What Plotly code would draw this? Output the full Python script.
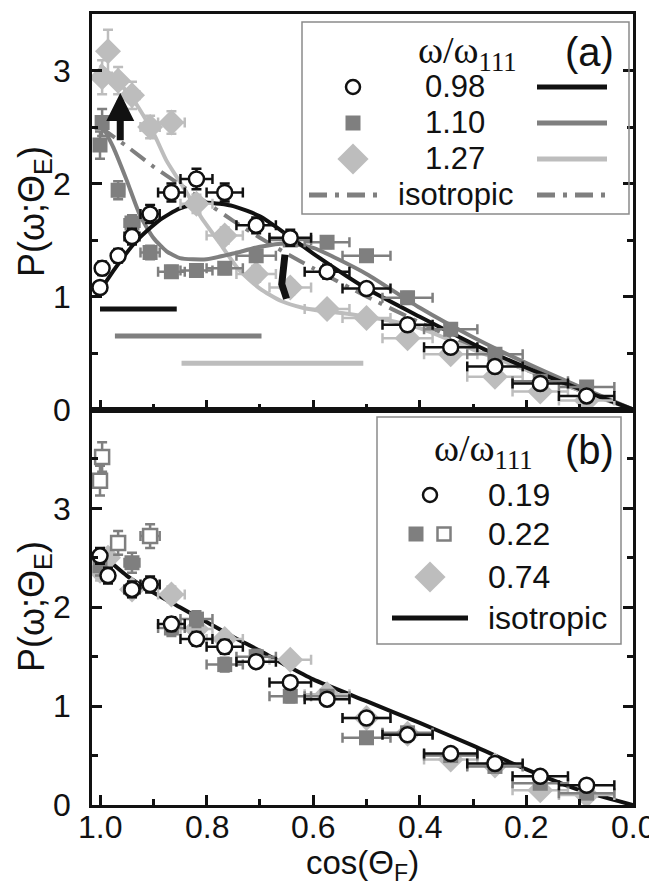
import plotly.graph_objects as go

FONT = "Liberation Sans, Arial, sans-serif"
SERIF = "Liberation Serif, Times New Roman, serif"
BLACK = "#111111"
MID = "#7f7f7f"
LIGHT = "#bdbdbd"

# ---------------- data ----------------
BIN_X = [1.000, 0.996, 0.985, 0.966, 0.940, 0.906, 0.866, 0.819, 0.766, 0.707,
         0.643, 0.574, 0.500, 0.423, 0.342, 0.259, 0.174, 0.087]
BIN_XERR = [0.003, 0.006, 0.008, 0.011, 0.014, 0.018, 0.025, 0.030, 0.034, 0.037,
            0.039, 0.042, 0.045, 0.047, 0.050, 0.052, 0.052, 0.052]

# panel (a)
A098_X = [1.000, 0.996, 0.966, 0.940, 0.906, 0.866, 0.819, 0.766, 0.707, 0.643, 0.574, 0.500, 0.423, 0.342, 0.259, 0.174, 0.087]
A098_Y = [1.08, 1.25, 1.36, 1.53, 1.73, 1.92, 2.04, 1.92, 1.63, 1.52, 1.22, 1.07, 0.75, 0.55, 0.38, 0.23, 0.12]
A098_YERR = [0.05, 0.06, 0.06, 0.07, 0.08, 0.08, 0.09, 0.08, 0.07, 0.07, 0.06, 0.05, 0.05, 0.04, 0.04, 0.03, 0.03]

A110_X = [1.000, 0.996, 0.966, 0.940, 0.906, 0.866, 0.819, 0.766, 0.707, 0.643, 0.574, 0.500, 0.423, 0.342, 0.259, 0.174, 0.087]
A110_Y = [2.34, 2.54, 1.94, 1.65, 1.39, 1.22, 1.23, 1.25, 1.36, 1.50, 1.48, 1.36, 0.99, 0.71, 0.49, 0.25, 0.20]
A110_YERR = [0.12, 0.12, 0.08, 0.07, 0.06, 0.05, 0.05, 0.05, 0.05, 0.05, 0.05, 0.05, 0.05, 0.04, 0.04, 0.03, 0.03]

A127_X = [0.996, 0.985, 0.966, 0.940, 0.906, 0.866, 0.819, 0.766, 0.707, 0.643, 0.574, 0.500, 0.423, 0.342, 0.259, 0.174, 0.087]
A127_Y = [2.94, 3.17, 2.91, 2.78, 2.50, 2.54, 1.82, 1.54, 1.20, 1.08, 0.89, 0.81, 0.63, 0.49, 0.29, 0.16, 0.08]
A127_YERR = [0.15, 0.19, 0.12, 0.12, 0.10, 0.10, 0.08, 0.07, 0.07, 0.06, 0.05, 0.05, 0.05, 0.04, 0.04, 0.03, 0.03]

CURVE098_X = [1.0, 0.97, 0.93, 0.89, 0.85, 0.80, 0.75, 0.70, 0.65, 0.60, 0.50, 0.40, 0.30, 0.20, 0.10, 0.0]
CURVE098_Y = [1.05, 1.26, 1.50, 1.67, 1.78, 1.83, 1.80, 1.71, 1.55, 1.38, 1.07, 0.82, 0.58, 0.37, 0.18, 0.0]

CURVE110_X = [1.0, 0.975, 0.95, 0.925, 0.9, 0.875, 0.85, 0.8, 0.75, 0.7, 0.65, 0.6, 0.5, 0.4, 0.3, 0.2, 0.1, 0.0]
CURVE110_Y = [2.55, 2.32, 2.03, 1.72, 1.52, 1.40, 1.34, 1.33, 1.38, 1.44, 1.47, 1.43, 1.20, 0.90, 0.64, 0.41, 0.20, 0.0]

CURVE127_X = [1.0, 0.975, 0.94, 0.9, 0.875, 0.84, 0.81, 0.775, 0.74, 0.7, 0.66, 0.62, 0.58, 0.54, 0.5, 0.46, 0.4, 0.3, 0.2, 0.1, 0.0]
CURVE127_Y = [3.05, 2.94, 2.76, 2.45, 2.20, 1.94, 1.70, 1.47, 1.24, 1.07, 0.96, 0.90, 0.87, 0.85, 0.82, 0.79, 0.72, 0.53, 0.35, 0.17, 0.0]

ISO_A_X = [1.0, 0.95, 0.9, 0.85, 0.8, 0.75, 0.7, 0.65, 0.6, 0.5, 0.4, 0.3, 0.2, 0.1, 0.0]
ISO_A_Y = [2.50, 2.33, 2.15, 1.99, 1.83, 1.67, 1.52, 1.38, 1.25, 1.00, 0.77, 0.55, 0.35, 0.17, 0.0]

# range bars in panel (a)
BAR_X0 = [1.000, 0.972, 0.847]
BAR_X1 = [0.856, 0.697, 0.506]
BAR_Y = [0.89, 0.65, 0.41]
BAR_COLORS = [BLACK, MID, LIGHT]

# arrow (tail, head) and hook mark in panel (a)
ARROW_X = [0.962, 0.962]
ARROW_Y = [2.37, 2.80]
HOOK_X = [0.653, 0.659, 0.650]
HOOK_Y = [1.37, 1.11, 0.98]

# panel (b)
B019_X = [1.000, 0.985, 0.940, 0.906, 0.866, 0.819, 0.766, 0.707, 0.643, 0.574, 0.500, 0.423, 0.342, 0.259, 0.174, 0.087]
B019_Y = [2.52, 2.32, 2.18, 2.23, 1.83, 1.68, 1.60, 1.45, 1.24, 1.07, 0.88, 0.71, 0.52, 0.42, 0.29, 0.20]
B019_YERR = [0.08, 0.08, 0.08, 0.08, 0.07, 0.07, 0.07, 0.06, 0.06, 0.05, 0.05, 0.05, 0.04, 0.04, 0.04, 0.04]

B022_X = [1.000, 0.940, 0.866, 0.819, 0.766, 0.707, 0.643, 0.574, 0.500, 0.423, 0.342, 0.259, 0.174, 0.087]
B022_Y = [2.42, 2.45, 1.79, 1.88, 1.42, 1.50, 1.10, 1.10, 0.68, 0.73, 0.50, 0.39, 0.22, 0.12]
B022_YERR = [0.10, 0.10, 0.08, 0.08, 0.07, 0.07, 0.06, 0.06, 0.05, 0.05, 0.04, 0.04, 0.04, 0.04]

B022_OPEN_X = [0.996, 1.000, 0.966, 0.906]
B022_OPEN_Y = [3.52, 3.28, 2.65, 2.72]
B022_OPEN_YERR = [0.15, 0.15, 0.12, 0.12]

B074_X = [1.000, 0.985, 0.940, 0.866, 0.819, 0.766, 0.643, 0.574, 0.500, 0.423, 0.342, 0.259, 0.174, 0.087]
B074_Y = [2.37, 2.50, 2.18, 2.13, 1.78, 1.68, 1.47, 1.12, 0.88, 0.72, 0.46, 0.40, 0.15, 0.10]
B074_YERR = [0.10, 0.10, 0.08, 0.08, 0.07, 0.07, 0.06, 0.06, 0.05, 0.05, 0.04, 0.04, 0.04, 0.04]

ISO_B_X = [1.0, 0.95, 0.9, 0.85, 0.8, 0.75, 0.7, 0.65, 0.6, 0.5, 0.4, 0.3, 0.2, 0.1, 0.0]
ISO_B_Y = [2.55, 2.32, 2.15, 2.00, 1.85, 1.70, 1.56, 1.41, 1.27, 1.05, 0.83, 0.60, 0.36, 0.15, 0.0]

X_TICK_VALS = [1.0, 0.8, 0.6, 0.4, 0.2, 0.0]
X_TICK_TEXT = ["1.0", "0.8", "0.6", "0.4", "0.2", "0.0"]
Y_TICKS = [0, 1, 2, 3]

LEG_A_LABELS = ["0.98", "1.10", "1.27", "isotropic"]
LEG_B_LABELS = ["0.19", "0.22", "0.74", "isotropic"]

XERR = dict(zip(BIN_X, BIN_XERR))

# ---- geometry (page pixels; the page body adds an 8 px offset) ----
PAGE_W, PAGE_H = 657, 886
OFF = 8
PL, PR, PT, PB = 92, 633, 14, 805          # plot area on the page
W, H = PAGE_W - OFF, PAGE_H - OFF
PW, PH = PR - PL, PB - PT


def xerr(xs):
    return [XERR[v] for v in xs]


fig = go.Figure()


def err(arr, color):
    return dict(type="data", array=arr, color=color, thickness=2.5, width=5)


def points(xs, ys, yerr, symbol, fill, edge, size, xa, ya):
    fig.add_trace(go.Scatter(
        x=xs, y=ys, mode="markers", xaxis=xa, yaxis=ya, showlegend=False,
        error_x=err(xerr(xs), edge), error_y=err(yerr, edge),
        marker=dict(symbol=symbol, size=size, color=fill,
                    line=dict(color=edge, width=2.5 if fill == "white" else 0))))


def curve(xs, ys, color, width, xa, ya, dash="solid"):
    fig.add_trace(go.Scatter(x=xs, y=ys, mode="lines", xaxis=xa, yaxis=ya,
                             showlegend=False, line=dict(color=color, width=width,
                                                         dash=dash, shape="spline", smoothing=0.6)))


DASHDOT = "18px,8px,4px,8px"

# ---- panel (a) ----
curve(ISO_A_X, ISO_A_Y, MID, 4, "x", "y", DASHDOT)
curve(CURVE127_X, CURVE127_Y, LIGHT, 4, "x", "y")
curve(CURVE110_X, CURVE110_Y, MID, 4, "x", "y")
curve(CURVE098_X, CURVE098_Y, BLACK, 4, "x", "y")
for x0, x1, yv, c in zip(BAR_X0, BAR_X1, BAR_Y, BAR_COLORS):
    fig.add_trace(go.Scatter(x=[x0, x1], y=[yv, yv], mode="lines", xaxis="x", yaxis="y",
                             showlegend=False, line=dict(color=c, width=5)))
points(A127_X, A127_Y, A127_YERR, "diamond", LIGHT, LIGHT, 20, "x", "y")
points(A110_X, A110_Y, A110_YERR, "square", MID, MID, 15, "x", "y")
points(A098_X, A098_Y, A098_YERR, "circle", "white", BLACK, 15, "x", "y")
fig.add_trace(go.Scatter(x=HOOK_X, y=HOOK_Y, mode="lines", xaxis="x", yaxis="y",
                         showlegend=False, line=dict(color=BLACK, width=7)))

# ---- panel (b) ----
curve(ISO_B_X, ISO_B_Y, BLACK, 4, "x2", "y2")
points(B074_X, B074_Y, B074_YERR, "diamond", LIGHT, LIGHT, 20, "x2", "y2")
points(B022_X, B022_Y, B022_YERR, "square", MID, MID, 15, "x2", "y2")
points(B022_OPEN_X, B022_OPEN_Y, B022_OPEN_YERR, "square", "white", MID, 14, "x2", "y2")
points(B019_X, B019_Y, B019_YERR, "circle", "white", BLACK, 15, "x2", "y2")

# ---- legends, drawn on an overlay axis measured in page pixels ----
def leg_line(x0, x1, yv, color, width, dash="solid"):
    fig.add_trace(go.Scatter(x=[x0, x1], y=[yv, yv], mode="lines", xaxis="x3", yaxis="y3",
                             showlegend=False, cliponaxis=False,
                             line=dict(color=color, width=width, dash=dash)))


def leg_marker(xv, yv, symbol, fill, edge, size):
    fig.add_trace(go.Scatter(x=[xv], y=[yv], mode="markers", xaxis="x3", yaxis="y3",
                             showlegend=False, cliponaxis=False,
                             marker=dict(symbol=symbol, size=size, color=fill,
                                         line=dict(color=edge, width=2.5 if fill == "white" else 0))))


annotations = []


def text(px, py, s, size, family=FONT, xanchor="center", angle=0):
    annotations.append(dict(x=(px - PL) / PW, y=(PB - py) / PH, xref="paper", yref="paper",
                            text=s, showarrow=False,
                            font=dict(size=size, family=family, color=BLACK),
                            xanchor=xanchor, yanchor="middle", textangle=angle))


# legend (a)
rows_a = [87, 123, 159, 195]
leg_marker(353, rows_a[0], "circle", "white", BLACK, 14)
leg_marker(353, rows_a[1], "square", MID, MID, 15)
leg_marker(353, rows_a[2], "diamond", LIGHT, LIGHT, 24)
leg_line(537, 607, rows_a[0], BLACK, 5)
leg_line(537, 607, rows_a[1], MID, 5)
leg_line(537, 607, rows_a[2], LIGHT, 5)
leg_line(309, 378, rows_a[3], MID, 5, DASHDOT)
leg_line(537, 607, rows_a[3], MID, 5, DASHDOT)
for lab, yv in zip(LEG_A_LABELS, rows_a):
    text(455, yv, lab, 31)
text(467, 53, "ω/ω<sub>111</sub>", 38, SERIF)
text(589, 52, "(a)", 40)

# legend (b)
rows_b = [495, 534, 577, 618]
leg_marker(430, rows_b[0], "circle", "white", BLACK, 14)
leg_marker(416, rows_b[1], "square", MID, MID, 15)
leg_marker(444, rows_b[1], "square", "white", MID, 13)
leg_marker(430, rows_b[2], "diamond", LIGHT, LIGHT, 24)
leg_line(392, 468, rows_b[3], BLACK, 5)
for lab, yv in zip(LEG_B_LABELS, rows_b):
    text(486, yv, lab, 32, xanchor="left")
text(483, 451, "ω/ω<sub>111</sub>", 38, SERIF)
text(589, 450, "(b)", 40)

# axis titles
text(34, 212, "P(ω;Θ<sub>E</sub>)", 36, angle=-90)
text(34, 607, "P(ω;Θ<sub>E</sub>)", 36, angle=-90)
text(362, 865, "cos(Θ<sub>F</sub>)", 33)

# x tick labels, placed on the x2 data scale just below the axis
for v, s in zip(X_TICK_VALS, X_TICK_TEXT):
    annotations.append(dict(x=v, y=(PB - 827) / PH, xref="x2", yref="paper", text=s,
                            showarrow=False, xanchor="center", yanchor="middle",
                            font=dict(size=32, family=FONT, color=BLACK)))

# arrow
annotations.append(dict(x=ARROW_X[1], y=ARROW_Y[1], ax=ARROW_X[0], ay=ARROW_Y[0],
                        xref="x", yref="y", axref="x", ayref="y", text="", showarrow=True,
                        arrowhead=2, arrowsize=0.8, arrowwidth=7, arrowcolor=BLACK))

shapes = [
    dict(type="rect", xref="x3", yref="y3", x0=302, x1=629, y0=22, y1=214,
         line=dict(color="#8a8a8a", width=1.5), fillcolor="rgba(0,0,0,0)"),
    dict(type="rect", xref="x3", yref="y3", x0=377, x1=621, y0=417, y1=644,
         line=dict(color="#8a8a8a", width=1.5), fillcolor="rgba(0,0,0,0)"),
]

axis_common = dict(showline=True, linecolor=BLACK, linewidth=2.5, ticks="inside",
                   tickcolor=BLACK, tickwidth=2.5, ticklen=10, showgrid=False,
                   zeroline=False, automargin=False,
                   tickfont=dict(size=32, color=BLACK, family=FONT))
x_common = dict(axis_common, range=[1.015, 0], tickmode="array", tickvals=X_TICK_VALS,
                mirror=True, showticklabels=False,
                minor=dict(tickmode="linear", tick0=0, dtick=0.1, ticks="inside", ticklen=6,
                           tickwidth=2.5, tickcolor=BLACK, showgrid=False))
y_common = dict(axis_common, tickmode="array", tickvals=Y_TICKS, mirror="ticks",
                ticklabelstandoff=12,
                minor=dict(tickmode="linear", tick0=0, dtick=0.5, ticks="inside", ticklen=6,
                           tickwidth=2.5, tickcolor=BLACK, showgrid=False))

fig.update_layout(
    width=W, height=H,
    margin=dict(l=PL - OFF, r=PAGE_W - PR, t=PT - OFF, b=PAGE_H - PB, autoexpand=False),
    paper_bgcolor="white", plot_bgcolor="rgba(0,0,0,0)",
    font=dict(family=FONT, color=BLACK),
    showlegend=False,
    xaxis=dict(x_common, domain=[0, 1], anchor="y"),
    yaxis=dict(y_common, domain=[0.5, 1], anchor="x", range=[0, 3.5]),
    xaxis2=dict(x_common, domain=[0, 1], anchor="y2"),
    yaxis2=dict(y_common, domain=[0, 0.5], anchor="x2", range=[0, 4.0]),
    xaxis3=dict(domain=[0, 1], anchor="y3", range=[PL, PR], visible=False, automargin=False),
    yaxis3=dict(domain=[0, 1], anchor="x3", range=[PB, PT], visible=False, automargin=False),
    annotations=annotations,
    shapes=shapes,
)

fig.write_html("out.html")
